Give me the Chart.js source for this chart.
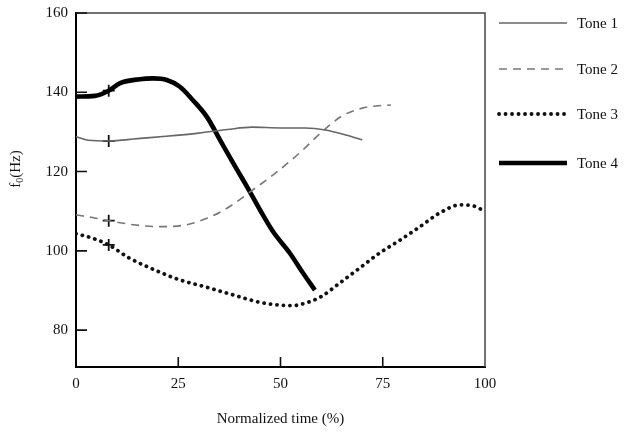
<!DOCTYPE html>
<html lang="en">
<head>
    <meta charset="UTF-8">
    <title>f0 contours of four tones</title>
    <style>
        body { margin: 0; padding: 0; background: #fff; }
        #wrap { width: 629px; height: 435px; }
    </style>
</head>
<body>
    <div id="wrap"><canvas id="toneChart" width="629" height="435"></canvas></div>

    <script src="https://cdn.jsdelivr.net/npm/chart.js"></script>
    <script>
        // Data (x = normalized time %, y = f0 in Hz)
        const tone1X = [0, 3, 8, 15, 22, 30, 37, 43, 50, 56, 61, 66, 70];
        const tone1Y = [128.8, 127.9, 127.7, 128.3, 128.9, 129.7, 130.6, 131.2, 131.0, 131.0, 130.5, 129.2, 128.0];

        const tone2X = [0, 4, 8, 14, 20, 26, 32, 37, 43, 49, 55, 60, 65, 70, 74, 77];
        const tone2Y = [109.1, 108.4, 107.6, 106.6, 106.1, 106.4, 108.2, 110.8, 115.2, 119.8, 125.0, 129.9, 134.0, 136.0, 136.6, 136.8];

        const tone3X = [0, 4, 8, 13, 19, 25, 32, 38, 45, 50, 53, 56, 60, 64.5, 69.4, 74.3, 79.2, 84.1, 89, 94, 97.6, 100];
        const tone3Y = [104.3, 103.2, 101.5, 98.2, 95.3, 92.8, 90.8, 89.0, 87.0, 86.3, 86.2, 86.8, 88.5, 91.9, 95.7, 99.5, 102.7, 106.1, 109.6, 111.6, 111.2, 109.9];

        const tone4X = [0, 4.6, 8, 10.8, 15.6, 18.8, 22.2, 25.4, 28.6, 32, 35.2, 38.4, 41.8, 45, 48.2, 52.3, 55.5, 58.4];
        const tone4Y = [138.9, 139.1, 140.4, 142.3, 143.3, 143.5, 143.1, 141.4, 138.0, 133.8, 128.0, 122.2, 116.2, 110.3, 104.8, 99.4, 94.4, 90.1];

        // "+" marks at the start of the stable part of each contour
        const markX = [8, 8, 8, 8];
        const markY = [127.7, 107.6, 101.5, 140.4];

        const toneLabels = ['Tone 1', 'Tone 2', 'Tone 3', 'Tone 4'];
        const xTicks = [0, 25, 50, 75, 100];
        const yTicks = [80, 100, 120, 140, 160];

        const pts = (xs, ys) => xs.map((x, i) => ({ x: x, y: ys[i] }));
        const serif = '"Liberation Serif", "Times New Roman", serif';
        const legendY = [23, 69, 114, 163];

        // frame, inward ticks, y title and legend
        const framePlugin = {
            id: 'frame',
            afterDraw(chart) {
                const { ctx, chartArea: a, scales: { x, y } } = chart;
                ctx.save();
                ctx.lineCap = 'butt';
                ctx.strokeStyle = '#444';
                ctx.lineWidth = 1.5;
                ctx.beginPath();
                ctx.moveTo(a.left, a.top);
                ctx.lineTo(a.right, a.top);
                ctx.lineTo(a.right, a.bottom);
                ctx.stroke();

                ctx.strokeStyle = '#111';
                ctx.lineWidth = 1.6;
                ctx.beginPath();
                yTicks.forEach(v => {
                    const py = y.getPixelForValue(v);
                    ctx.moveTo(a.left, py);
                    ctx.lineTo(a.left + 11, py);
                });
                xTicks.slice(1, -1).forEach(v => {
                    const px = x.getPixelForValue(v);
                    ctx.moveTo(px, a.bottom);
                    ctx.lineTo(px, a.bottom - 10);
                });
                ctx.stroke();

                // y axis title f0(Hz) with subscript
                ctx.fillStyle = '#111';
                ctx.textBaseline = 'alphabetic';
                ctx.translate(20, 169);
                ctx.rotate(-Math.PI / 2);
                const big = '15px ' + serif, small = '10px ' + serif;
                ctx.font = big; const wf = ctx.measureText('f').width;
                ctx.font = small; const w0 = ctx.measureText('0').width;
                ctx.font = big; const wh = ctx.measureText('(Hz)').width;
                let sx = -(wf + w0 + wh) / 2;
                ctx.font = big; ctx.fillText('f', sx, 0); sx += wf;
                ctx.font = small; ctx.fillText('0', sx, 3); sx += w0;
                ctx.font = big; ctx.fillText('(Hz)', sx, 0);
                ctx.setTransform(1, 0, 0, 1, 0, 0);

                // legend
                chart.data.datasets.slice(0, 4).forEach((ds, i) => {
                    const ly = legendY[i];
                    ctx.beginPath();
                    ctx.strokeStyle = ds.borderColor;
                    ctx.lineWidth = ds.borderWidth;
                    ctx.lineCap = ds.borderCapStyle || 'butt';
                    ctx.setLineDash(ds.borderDash || []);
                    ctx.moveTo(499, ly);
                    ctx.lineTo(567, ly);
                    ctx.stroke();
                    ctx.setLineDash([]);
                    ctx.fillStyle = '#111';
                    ctx.font = '15px ' + serif;
                    ctx.textBaseline = 'middle';
                    ctx.fillText(toneLabels[i], 577, ly + 1);
                });
                ctx.restore();
            }
        };

        const toneChart = new Chart(document.getElementById('toneChart'), {
            type: 'line',
            data: {
                datasets: [
                    { label: toneLabels[0], data: pts(tone1X, tone1Y), borderColor: '#666', borderWidth: 1.6 },
                    { label: toneLabels[1], data: pts(tone2X, tone2Y), borderColor: '#777', borderWidth: 1.6, borderDash: [8, 6] },
                    { label: toneLabels[2], data: pts(tone3X, tone3Y), borderColor: '#111', borderWidth: 3.8, borderDash: [0.1, 6.4], borderCapStyle: 'round' },
                    { label: toneLabels[3], data: pts(tone4X, tone4Y), borderColor: '#000', borderWidth: 4.6 },
                    {
                        label: 'marks', data: pts(markX, markY), showLine: false,
                        pointStyle: 'cross', pointRadius: 6, pointBorderWidth: 1.8,
                        pointBorderColor: '#111', borderColor: '#111'
                    }
                ]
            },
            options: {
                responsive: false,
                animation: false,
                devicePixelRatio: 1,
                layout: { padding: { left: 0, top: 13, right: 144, bottom: 0 } },
                elements: {
                    point: { radius: 0 },
                    line: { cubicInterpolationMode: 'monotone', fill: false }
                },
                plugins: { legend: { display: false }, tooltip: { enabled: false } },
                scales: {
                    x: {
                        type: 'linear', min: 0, max: 100,
                        afterBuildTicks: s => { s.ticks = xTicks.map(v => ({ value: v })); },
                        afterFit: s => { s.height = 68; s.paddingLeft = 0; s.paddingRight = 0; },
                        grid: { drawOnChartArea: false, drawTicks: false },
                        border: { color: '#000', width: 2 },
                        ticks: { padding: 8, color: '#111', font: { family: serif, size: 15 } },
                        title: { display: true, text: 'Normalized time (%)', color: '#111', font: { family: serif, size: 15 }, padding: { top: 0, bottom: 7 } }
                    },
                    y: {
                        min: 70.7, max: 160,
                        afterBuildTicks: s => { s.ticks = yTicks.map(v => ({ value: v })); },
                        afterFit: s => { s.width = 76; s.paddingTop = 0; s.paddingBottom = 0; },
                        grid: { drawOnChartArea: false, drawTicks: false },
                        border: { color: '#000', width: 2 },
                        ticks: { padding: 8, color: '#111', font: { family: serif, size: 15 } }
                    }
                }
            },
            plugins: [framePlugin]
        });
    </script>
</body>
</html>
